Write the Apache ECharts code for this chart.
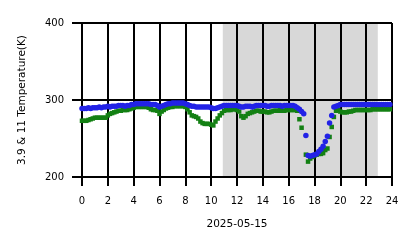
<!DOCTYPE html>
<html>
<head>
<meta charset="utf-8">
<script src="https://cdn.jsdelivr.net/npm/echarts@6/dist/echarts.min.js"></script>
<style>html,body{margin:0;padding:0;background:#fff}#c{width:418px;height:248px}</style>
</head>
<body>
<div id="c"></div>
<script>
// sampling: one value every 10 minutes starting at 00:00
const startHour = 0;
const stepHours = 1 / 6;
const xTicks = [0, 2, 4, 6, 8, 10, 12, 14, 16, 18, 20, 22, 24];
const yTicks = [200, 300, 400];
const shadedSpan = [10.9, 22.9];
const dateLabel = '2025-05-15';
const yName = '3.9 & 11 Temperature(K)';

const temp39 = [
  289, 289, 289, 290, 289, 290,
  290, 290, 291, 290, 291, 291,
  292, 291, 292, 292, 292, 293,
  293, 293, 292, 293, 293, 294,
  294, 295, 295, 295, 295, 295,
  295, 295, 294, 294, 294, 293,
  291, 292, 293, 294, 295, 295,
  296, 296, 296, 296, 296, 296,
  295, 294, 293, 292, 292, 291,
  291, 291, 291, 291, 291, 291,
  290, 289, 289, 290, 291, 292,
  293, 293, 293, 293, 293, 293,
  293, 292, 291, 291, 292, 292,
  292, 291, 292, 293, 293, 293,
  293, 293, 292, 292, 293, 293,
  293, 293, 293, 292, 293, 293,
  293, 293, 293, 292, 290, 288,
  285, 282, 254, 228, 227, 228,
  229, 230, 233, 236, 240, 246,
  253, 270, 280, 291, 292, 293,
  294, 294, 294, 294, 294, 294,
  294, 294, 294, 294, 294, 294,
  294, 294, 294, 294, 294, 294,
  294, 294, 294, 294, 294, 294
];

const temp11 = [
  273, 273, 273, 274, 275, 276,
  277, 277, 277, 277, 277, 277,
  280, 282, 283, 284, 285, 286,
  286, 287, 287, 287, 288, 289,
  290, 291, 291, 291, 291, 291,
  291, 290, 288, 287, 287, 286,
  282, 285, 287, 289, 290, 291,
  291, 292, 292, 292, 292, 292,
  291, 288, 284, 280, 279, 278,
  276, 272, 270, 269, 269, 269,
  268, 267, 272, 276, 280, 283,
  286, 287, 287, 287, 288, 288,
  287, 285, 279, 277, 279, 282,
  283, 284, 285, 286, 286, 285,
  285, 285, 284, 284, 285, 286,
  286, 286, 287, 286, 286, 287,
  287, 287, 287, 287, 286, 275,
  264, null, 229, 220, 224, 226,
  228, 229, 230, 230, 231, 235,
  237, 252, 265, 278, 286, 287,
  285, 284, 284, 284, 285, 285,
  286, 287, 287, 287, 287, 287,
  287, 287, 287, 288, 288, 288,
  288, 288, 288, 288, 288, 288
];

function toPairs(vals) {
  const out = [];
  vals.forEach((v, i) => { if (v !== null) out.push([startHour + i * stepHours, v]); });
  return out;
}

const font = 'DejaVu Sans';
const chart = echarts.init(document.getElementById('c'), null, {renderer: 'canvas'});
chart.setOption({
  animation: false,
  backgroundColor: '#ffffff',
  grid: {left: 82, right: 26, top: 23, bottom: 71, containLabel: false},
  xAxis: {
    type: 'value', min: xTicks[0], max: xTicks[xTicks.length - 1], interval: 2, z: 2.5,
    name: dateLabel, nameLocation: 'middle', nameGap: 42,
    nameTextStyle: {fontFamily: font, fontSize: 10.5, color: '#000'},
    axisLine: {show: true, lineStyle: {color: '#000', width: 2}},
    axisTick: {show: true, inside: false, length: 9, lineStyle: {color: '#000', width: 2}},
    axisLabel: {fontFamily: font, fontSize: 10, color: '#000', margin: 19},
    splitLine: {show: true, lineStyle: {color: '#000', width: 2}}
  },
  yAxis: {
    type: 'value', min: yTicks[0], max: yTicks[yTicks.length - 1], interval: 100, z: 2.5,
    name: yName, nameLocation: 'middle', nameGap: 54, nameRotate: 90,
    nameTextStyle: {fontFamily: font, fontSize: 10.5, color: '#000'},
    axisLine: {show: true, lineStyle: {color: '#000', width: 2}},
    axisTick: {show: true, length: 10, lineStyle: {color: '#000', width: 2}},
    axisLabel: {fontFamily: font, fontSize: 10, color: '#000', margin: 18},
    splitLine: {show: true, lineStyle: {color: '#000', width: 2}}
  },
  series: [
    {
      type: 'scatter', data: [], z: 1, silent: true,
      markArea: {
        silent: true,
        itemStyle: {color: '#d8d8d8'},
        data: [[{xAxis: shadedSpan[0]}, {xAxis: shadedSpan[1]}]]
      }
    },
    {
      name: '11', type: 'scatter', data: toPairs(temp11), z: 3,
      symbol: 'rect', symbolSize: 4.5,
      itemStyle: {color: '#138013', opacity: 1}
    },
    {
      name: '3.9', type: 'scatter', data: toPairs(temp39), z: 4,
      symbol: 'circle', symbolSize: 5.5,
      itemStyle: {color: '#2222e6', opacity: 1}
    }
  ]
});
</script>
</body>
</html>
